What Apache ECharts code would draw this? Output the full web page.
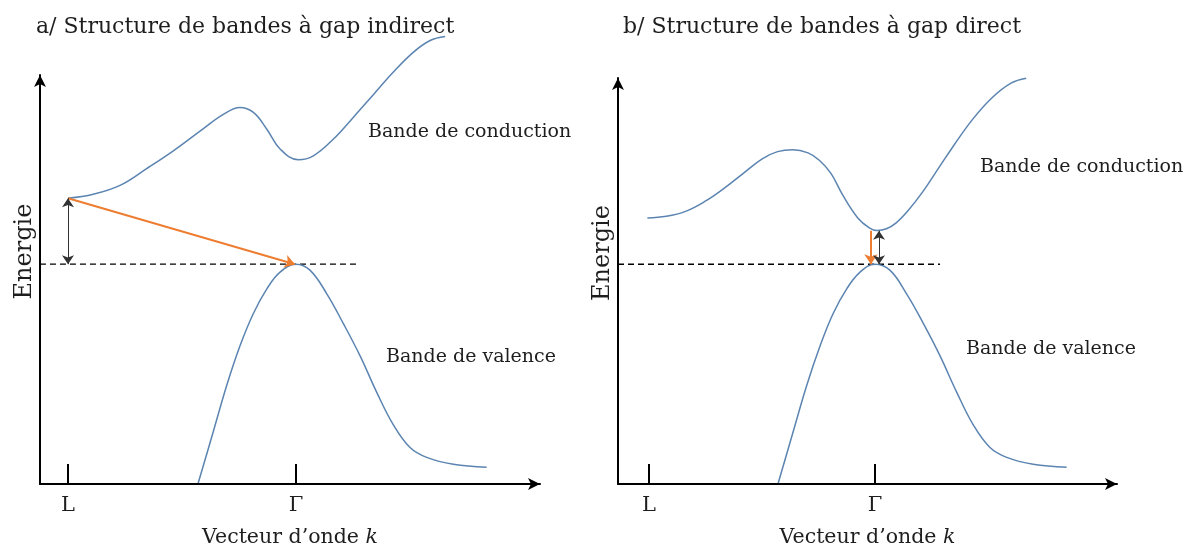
<!DOCTYPE html>
<html>
<head>
<meta charset="utf-8">
<script src="https://cdn.jsdelivr.net/npm/echarts@6/dist/echarts.min.js"></script>
<style>html,body{margin:0;padding:0;background:#fff;}#c{width:1189px;height:553px;}</style>
</head>
<body>
<div id="c"></div>
<script>
// k in units where L = 0 and Gamma = 1 ; E with valence-band top = 0
const tickValues = [0, 1];
const tickLabels = ['L', 'Γ'];
const titles = ['a/ Structure de bandes à gap indirect', 'b/ Structure de bandes à gap direct'];
const bandLabels = ['Bande de conduction', 'Bande de valence'];

const condA = [[0,0.67],[0.111,0.71],[0.228,0.80],[0.345,0.97],[0.462,1.15],[0.579,1.35],[0.681,1.52],[0.754,1.59],[0.813,1.54],[0.872,1.37],[0.930,1.17],[1.010,1.06],[1.076,1.10],[1.164,1.27],[1.251,1.49],[1.339,1.72],[1.427,1.95],[1.514,2.15],[1.588,2.27],[1.654,2.31]];
const valA = [[0.571,-2.22],[0.637,-1.70],[0.696,-1.23],[0.754,-0.83],[0.813,-0.50],[0.872,-0.25],[0.930,-0.08],[1.0,0],[1.061,-0.06],[1.135,-0.30],[1.207,-0.60],[1.281,-0.93],[1.354,-1.30],[1.427,-1.63],[1.5,-1.86],[1.573,-1.96],[1.690,-2.03],[1.836,-2.06]];
const condB = [[-0.007,0.47],[0.077,0.487],[0.162,0.537],[0.247,0.637],[0.332,0.77],[0.416,0.92],[0.501,1.07],[0.569,1.143],[0.636,1.163],[0.704,1.13],[0.755,1.053],[0.806,0.92],[0.857,0.703],[0.924,0.47],[0.975,0.37],[1.009,0.343],[1.051,0.36],[1.094,0.42],[1.144,0.537],[1.212,0.737],[1.28,0.97],[1.348,1.203],[1.432,1.47],[1.517,1.687],[1.602,1.837],[1.669,1.887]];
const valB = [[0.572,-2.22],[0.638,-1.70],[0.698,-1.23],[0.757,-0.83],[0.815,-0.50],[0.875,-0.25],[0.934,-0.08],[1.0,0],[1.066,-0.06],[1.140,-0.30],[1.214,-0.60],[1.288,-0.93],[1.362,-1.30],[1.435,-1.63],[1.509,-1.86],[1.583,-1.96],[1.700,-2.03],[1.848,-2.06]];

const dashA = [[-0.123,0],[1.272,0]];
const dashB = [[-0.137,0],[1.288,0]];
const transA = [[0,0.67],[0.995,0]];     // orange (indirect)
const gapA = [[0,0.67],[0,0]];           // black double arrow
const transB = [[0.982,0.34],[0.982,0]];
const gapB = [[1.018,0.34],[1.018,0]];

const FONT = 'DejaVu Serif';
const TXT = '#1e1e1e';
const BLUE = '#5b84b1';
const ORANGE = '#ed7d31';

const chart = echarts.init(document.getElementById('c'));

function xAx(gi, min, max) {
  return {
    type: 'value', gridIndex: gi, min: min, max: max,
    splitLine: {show: false},
    axisLine: {onZero: false, symbol: ['none', 'arrow'], symbolSize: [9, 12], lineStyle: {color: '#000', width: 2}},
    axisTick: {show: true, inside: true, length: 20, customValues: tickValues, lineStyle: {color: '#000', width: 2}},
    axisLabel: {show: true, customValues: tickValues, margin: 11, color: TXT, fontFamily: FONT, fontSize: 21,
      formatter: v => tickLabels[tickValues.indexOf(Math.round(v))] || ''},
    name: 'Vecteur d’onde {k|k}', nameLocation: 'middle', nameGap: 43,
    nameTextStyle: {color: TXT, fontFamily: FONT, fontSize: 20.5,
      rich: {k: {fontStyle: 'italic', fontFamily: FONT, fontSize: 20.5, color: TXT}}}
  };
}
function yAx(gi, min, max) {
  return {
    type: 'value', gridIndex: gi, min: min, max: max,
    splitLine: {show: false},
    axisLine: {onZero: false, symbol: ['none', 'arrow'], symbolSize: [9, 12], lineStyle: {color: '#000', width: 2}},
    axisTick: {show: false}, axisLabel: {show: false},
    name: 'Energie', nameLocation: 'middle', nameGap: 3, nameRotate: 90,
    nameTextStyle: {color: TXT, fontFamily: FONT, fontSize: 24, padding: [0, 0, 0, 56]}
  };
}
function curve(data, gi) {
  return {type: 'line', xAxisIndex: gi, yAxisIndex: gi, data: data, smooth: 0.4, showSymbol: false, clip: false,
    lineStyle: {color: BLUE, width: 1.5}, silent: true, z: 3};
}
function dash(data, gi) {
  return {type: 'line', xAxisIndex: gi, yAxisIndex: gi, data: data, showSymbol: false, clip: false,
    lineStyle: {color: '#000', width: 1.3, type: [6, 4]}, silent: true, z: 2};
}
function arrow(data, gi, color, width, both) {
  return {type: 'lines', coordinateSystem: 'cartesian2d', xAxisIndex: gi, yAxisIndex: gi,
    data: [{coords: data}], symbol: [both ? 'arrow' : 'none', 'arrow'], symbolSize: both ? 9 : 10,
    lineStyle: {color: color, width: width, opacity: 1}, silent: true, z: 4};
}

const txt = (s, x, y) => ({type: 'text', left: x, top: y,
  style: {text: s, fill: TXT, font: '19px "' + FONT + '"'}});

chart.setOption({
  animation: false,
  backgroundColor: '#fff',
  title: [
    {text: titles[0], left: 31, top: 11, textStyle: {fontFamily: FONT, fontSize: 22, fontWeight: 'normal', color: TXT}},
    {text: titles[1], left: 618, top: 11, textStyle: {fontFamily: FONT, fontSize: 22, fontWeight: 'normal', color: TXT}}
  ],
  grid: [
    {left: 40, top: 75, width: 500, height: 415},
    {left: 618, top: 78, width: 499, height: 412}
  ],
  xAxis: [xAx(0, -0.1228, 2.070), xAx(1, -0.137, 2.071)],
  yAxis: [yAx(0, -2.23, 1.92), yAx(1, -2.23, 1.89)],
  graphic: [
    txt(bandLabels[0], 368, 123),
    txt(bandLabels[1], 386, 348),
    txt(bandLabels[0], 980, 158),
    txt(bandLabels[1], 966, 340)
  ],
  series: [
    curve(condA, 0), curve(valA, 0), dash(dashA, 0),
    arrow(transA, 0, ORANGE, 2, false), arrow(gapA, 0, '#333', 1, true),
    curve(condB, 1), curve(valB, 1), dash(dashB, 1),
    arrow(transB, 1, ORANGE, 2, false), arrow(gapB, 1, '#333', 1, true)
  ]
});
</script>
</body>
</html>
